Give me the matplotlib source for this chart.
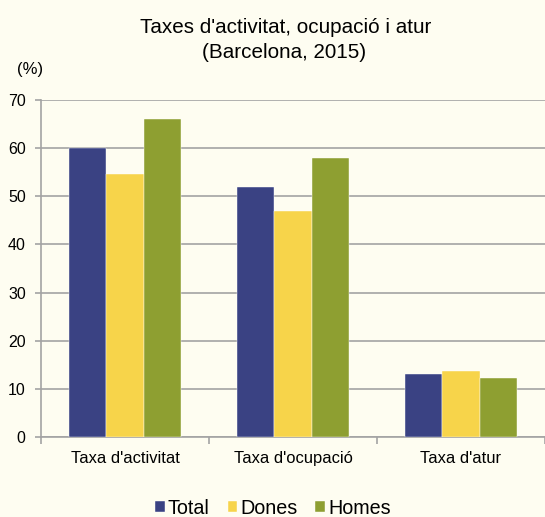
import matplotlib
matplotlib.use("Agg")
import matplotlib.pyplot as plt
import numpy as np

categories = ["Taxa d'activitat", "Taxa d'ocupació", "Taxa d'atur"]
series_names = ["Total", "Dones", "Homes"]
total = [60.0, 52.0, 13.0]
dones = [54.7, 47.0, 13.8]
homes = [66.0, 58.0, 12.3]
yticks = [0, 10, 20, 30, 40, 50, 60, 70]

colors = ["#3A4283", "#F7D44A", "#8E9F31"]
bg = "#FEFDF1"
grid_c = "#A3A3A3"

plt.rcParams['font.family'] = ['Liberation Sans', 'DejaVu Sans']

fig = plt.figure(figsize=(5.45, 5.17), dpi=100, facecolor=bg)
ax = fig.add_axes([41/545, 1-437/517, 1-41/545, (437-100)/517])
ax.set_facecolor(bg)

x = np.arange(len(categories))
w = 0.221
for i, (vals, name, c) in enumerate(zip([total, dones, homes], series_names, colors)):
    ax.bar(x + (i-1)*w, vals, w, color=c, label=name, edgecolor="#FFFFFF", linewidth=0.3, zorder=3)

ax.set_ylim(0, 70)
ax.set_xlim(-0.5, 2.5)
ax.set_yticks(yticks)
ax.yaxis.grid(True, color=grid_c, linewidth=1.2, zorder=0)
ax.tick_params(axis='y', length=4, width=1.2, color=grid_c, labelsize=11.5, pad=7)
ax.set_xticks(x)
ax.set_xticklabels(categories, fontsize=11.9)
ax.tick_params(axis='x', which='major', length=0, pad=10)
ax.set_xticks([-0.5, 0.5, 1.5, 2.5], minor=True)
ax.tick_params(axis='x', which='minor', length=5, width=1.2, color=grid_c)
for s in ['top', 'right']:
    ax.spines[s].set_visible(False)
for s in ['left', 'bottom']:
    ax.spines[s].set_color(grid_c)
    ax.spines[s].set_linewidth(1.2)

fig.text(286/545, 1-33/517, "Taxes d'activitat, ocupació i atur",
         ha='center', va='baseline', fontsize=14.85)
fig.text(284/545, 1-58/517, "(Barcelona, 2015)",
         ha='center', va='baseline', fontsize=14.85)
fig.text(17/545, 1-74/517, "(%)", ha='left', va='baseline', fontsize=12)

leg = fig.legend(loc='center', bbox_to_anchor=(273/545, 1-508/517), ncol=3, frameon=False,
                 fontsize=14.2, handlelength=0.5, handleheight=0.5, handletextpad=0.15,
                 columnspacing=0.9, borderaxespad=0)

fig.savefig("out.png", dpi=100, facecolor=bg)
